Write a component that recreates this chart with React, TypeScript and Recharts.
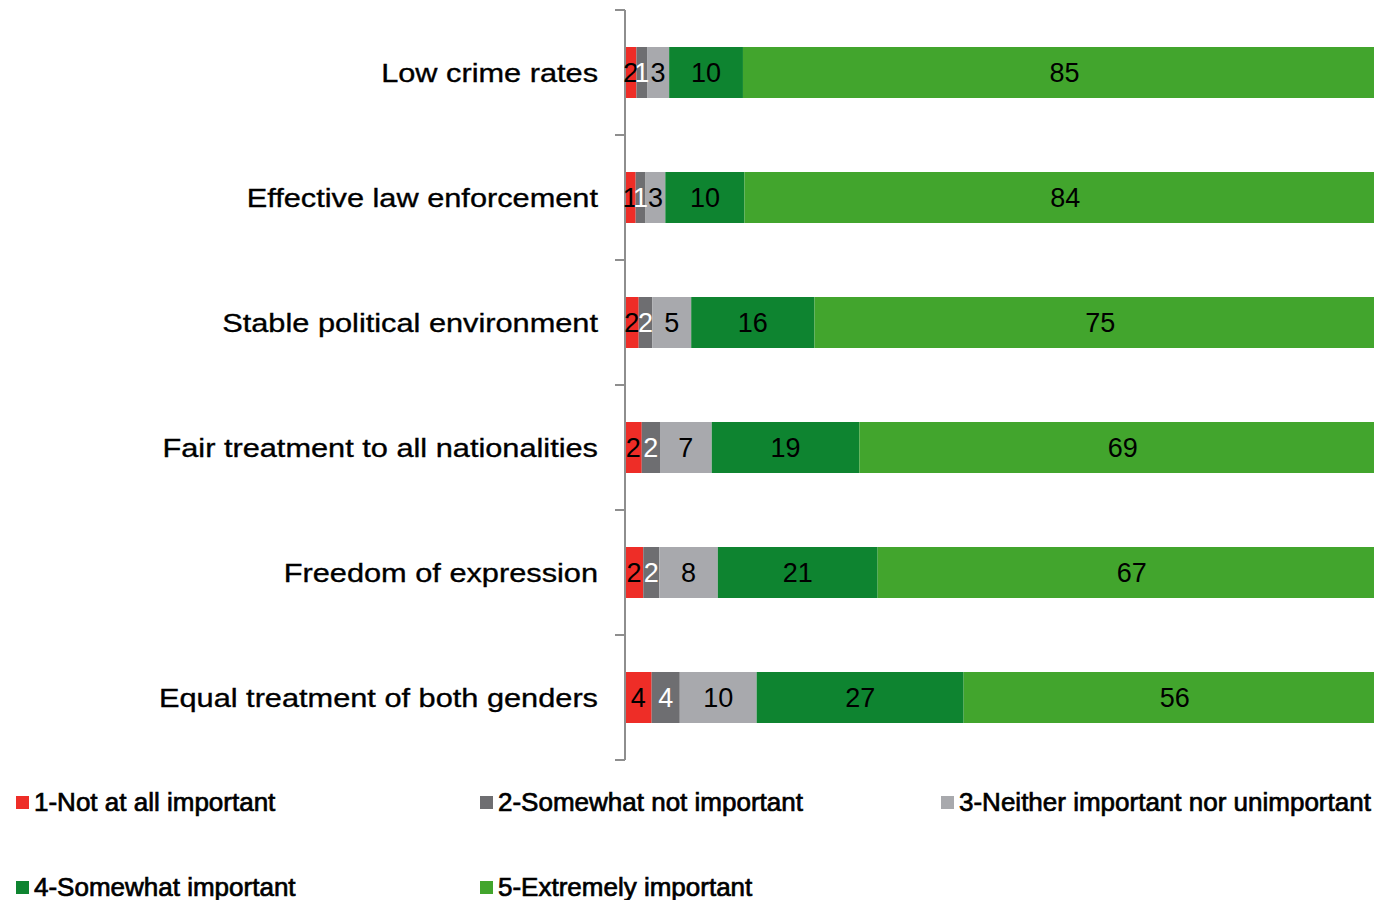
import React from 'react';
import { BarChart, Bar, XAxis, YAxis, Legend, LabelList } from 'recharts';

const categories = [
  'Low crime rates',
  'Effective law enforcement',
  'Stable political environment',
  'Fair treatment to all nationalities',
  'Freedom of expression',
  'Equal treatment of both genders',
];

const notAtAll = [1.5, 1.4, 1.8, 2.2, 2.4, 3.5];
const somewhatNot = [1.4, 1.3, 1.8, 2.4, 2.1, 3.7];
const neither = [2.9, 2.6, 5.1, 6.8, 7.7, 10.1];
const somewhat = [9.7, 10.4, 16.2, 19.4, 21.0, 27.2];
const extremely = [84.5, 84.3, 75.1, 69.2, 66.8, 55.5];

const seriesNames = [
  '1-Not at all important',
  '2-Somewhat not important',
  '3-Neither important nor unimportant',
  '4-Somewhat important',
  '5-Extremely important',
];
const seriesKeys = ['s1', 's2', 's3', 's4', 's5'];
const seriesColors = ['#EE2D27', '#6E6E71', '#A8A9AD', '#0E8430', '#42A52D'];
const labelColors = ['#000', '#fff', '#000', '#000', '#000'];

const seriesValues = [notAtAll, somewhatNot, neither, somewhat, extremely];
const data = categories.map((name, i) => {
  const row: Record<string, any> = { name };
  seriesKeys.forEach((k, j) => {
    row[k] = seriesValues[j][i];
  });
  return row;
});

const FONT = '"Liberation Sans", Arial, sans-serif';
const AXIS_COLOR = '#8E8E8E';
const HALF_BAND = 62.5;

const CategoryTick = (props: any) => {
  const { x, y, payload, index } = props;
  const isLast = index === categories.length - 1;
  return (
    <g>
      <line x1={x + 17} x2={x + 27} y1={y - HALF_BAND} y2={y - HALF_BAND} stroke={AXIS_COLOR} strokeWidth={2} />
      {isLast && (
        <line x1={x + 17} x2={x + 27} y1={y + HALF_BAND} y2={y + HALF_BAND} stroke={AXIS_COLOR} strokeWidth={2} />
      )}
      <text
        transform={`translate(${x},${y}) scale(1.16,1)`}
        textAnchor="end"
        dy="0.35em"
        fontFamily={FONT}
        fontSize={26.5}
        fill="#000"
        stroke="#000"
        strokeWidth={0.35}
      >
        {payload.value}
      </text>
    </g>
  );
};

const makeLabel = (color: string) => (props: any) => {
  const { x, y, width, height, value } = props;
  return (
    <text
      x={Number(x) + Number(width) / 2}
      y={Number(y) + Number(height) / 2}
      dy="0.34em"
      textAnchor="middle"
      fontFamily={FONT}
      fontSize={27}
      fill={color}
    >
      {Math.round(Number(value))}
    </text>
  );
};

const legendCols = [16, 480, 941];
const legendRows = [42, 127];

const renderLegend = () => (
  <div style={{ position: 'relative', width: 1374, height: 140 }}>
    {seriesNames.map((n, i) => {
      const col = i % 3;
      const row = Math.floor(i / 3);
      return (
        <div
          key={n}
          style={{
            position: 'absolute',
            left: legendCols[col],
            top: legendRows[row] - 15,
            height: 30,
            display: 'flex',
            alignItems: 'center',
            whiteSpace: 'nowrap',
          }}
        >
          <span
            style={{
              display: 'inline-block',
              width: 13,
              height: 13,
              background: seriesColors[i],
              marginRight: 5,
            }}
          />
          <span
            style={{
              fontFamily: FONT,
              fontSize: 26,
              color: '#000',
              WebkitTextStroke: '0.7px #000',
              letterSpacing: 0,
            }}
          >
            {n}
          </span>
        </div>
      );
    })}
  </div>
);

export default function App() {
  return (
    <div
      style={{
        position: 'fixed',
        left: 0,
        top: 0,
        width: 1374,
        height: 900,
        overflow: 'hidden',
        background: '#fff',
      }}
    >
      <BarChart
        width={1386}
        height={900}
        data={data}
        layout="vertical"
        margin={{ top: 10, right: 0, bottom: 0, left: 0 }}
        barSize={51}
      >
        <XAxis type="number" domain={[0, 100]} hide allowDataOverflow />
        <YAxis
          type="category"
          dataKey="name"
          width={625}
          axisLine={{ stroke: AXIS_COLOR, strokeWidth: 2 }}
          tickLine={false}
          tickSize={0}
          tickMargin={27}
          tick={<CategoryTick />}
          interval={0}
        />
        <Legend verticalAlign="bottom" content={renderLegend} />
        {seriesKeys.map((k, j) => (
          <Bar
            key={k}
            dataKey={k}
            name={seriesNames[j]}
            stackId="a"
            fill={seriesColors[j]}
            isAnimationActive={false}
          >
            <LabelList dataKey={k} content={makeLabel(labelColors[j])} />
          </Bar>
        ))}
      </BarChart>
    </div>
  );
}
